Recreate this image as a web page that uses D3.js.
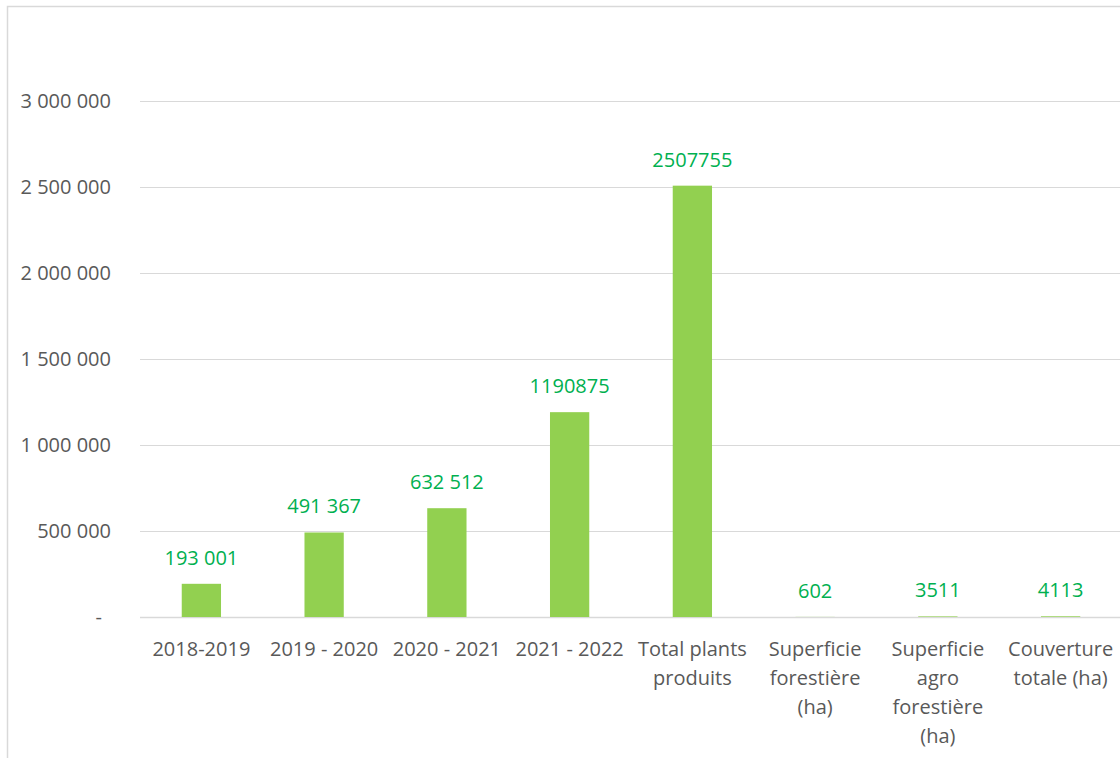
<!DOCTYPE html>
<html>
<head>
<meta charset="utf-8">
<script src="https://cdn.jsdelivr.net/npm/d3@7"></script>
<style>
  body { margin: 0; background: #fff; }
  text { font-family: "Open Sans", sans-serif; }
</style>
</head>
<body>
<script>
// chart data
var categories = ["2018-2019", "2019 - 2020", "2020 - 2021", "2021 - 2022",
    "Total plants produits", "Superficie forestière (ha)",
    "Superficie agro forestière (ha)", "Couverture totale (ha)"];
var values = [193001, 491367, 632512, 1190875, 2507755, 602, 3511, 4113];
var valueLabels = ["193 001", "491 367", "632 512", "1190875", "2507755", "602", "3511", "4113"];
var yTicks = [0, 500000, 1000000, 1500000, 2000000, 2500000, 3000000];

var w = 1120, h = 758;
var svg = d3.select("body").append("svg")
    .attr("width", w)
    .attr("height", h);

// chart border (only top and left visible)
svg.append("rect")
    .attr("x", 7.5).attr("y", 6.5)
    .attr("width", w + 20).attr("height", h + 20)
    .style("fill", "none")
    .style("stroke", "#d9d9d9")
    .style("stroke-width", 1.5);

var x = d3.scaleBand()
    .domain(categories)
    .range([140, 1122])
    .paddingInner(0.68)
    .paddingOuter(0.34);

var y = d3.scaleLinear()
    .domain([0, 3000000])
    .range([617, 101]);

// gridlines
svg.selectAll(".grid")
    .data(yTicks)
    .enter()
    .append("line")
    .attr("class", "grid")
    .attr("x1", 140).attr("x2", 1122)
    .attr("y1", function(d){ return Math.round(y(d)) + 0.5; })
    .attr("y2", function(d){ return Math.round(y(d)) + 0.5; })
    .style("stroke", "#d9d9d9")
    .style("stroke-width", function(d){ return d === 0 ? 1.5 : 1; });

// y axis labels
var fmt = function(d){ return d === 0 ? "-" : d3.format(",")(d).replace(/,/g, " "); };
svg.selectAll(".ylab")
    .data(yTicks)
    .enter()
    .append("text")
    .attr("class", "ylab")
    .attr("x", function(d){ return d === 0 ? 102 : 111; })
    .attr("y", function(d){ return y(d) + 7; })
    .attr("text-anchor", "end")
    .style("font-size", "20px")
    .style("fill", "#595959")
    .text(fmt);

// bars
svg.selectAll(".bar")
    .data(values)
    .enter()
    .append("rect")
    .attr("class", "bar")
    .attr("x", function(d, i){ return x(categories[i]); })
    .attr("width", x.bandwidth())
    .attr("y", function(d){ return y(d); })
    .attr("height", function(d){ return y(0) - y(d); })
    .style("fill", "#92d050");

// value labels
svg.selectAll(".vlab")
    .data(values)
    .enter()
    .append("text")
    .attr("class", "vlab")
    .attr("x", function(d, i){ return x(categories[i]) + x.bandwidth() / 2; })
    .attr("y", function(d){ return y(d) - 19; })
    .attr("text-anchor", "middle")
    .style("font-size", "20px")
    .style("fill", "#00b050")
    .text(function(d, i){ return valueLabels[i]; });

// category labels, wrapped to the band step
var step = x.step();
var catLabels = svg.selectAll(".xlab")
    .data(categories)
    .enter()
    .append("text")
    .attr("class", "xlab")
    .attr("text-anchor", "middle")
    .style("font-size", "20px")
    .style("fill", "#595959")
    .each(function(d){
        var el = d3.select(this);
        var cx = x(d) + x.bandwidth() / 2;
        var words = d.split(" ");
        var lines = [], line = [];
        var probe = el.append("tspan");
        words.forEach(function(wd){
            var test = line.concat([wd]).join(" ");
            probe.text(test);
            if (line.length && probe.node().getComputedTextLength() > step - 2) {
                lines.push(line.join(" "));
                line = [wd];
            } else {
                line.push(wd);
            }
        });
        lines.push(line.join(" "));
        probe.remove();
        lines.forEach(function(t, k){
            el.append("tspan")
                .attr("x", cx)
                .attr("y", 656 + k * 29)
                .text(t);
        });
    });
</script>
</body>
</html>
